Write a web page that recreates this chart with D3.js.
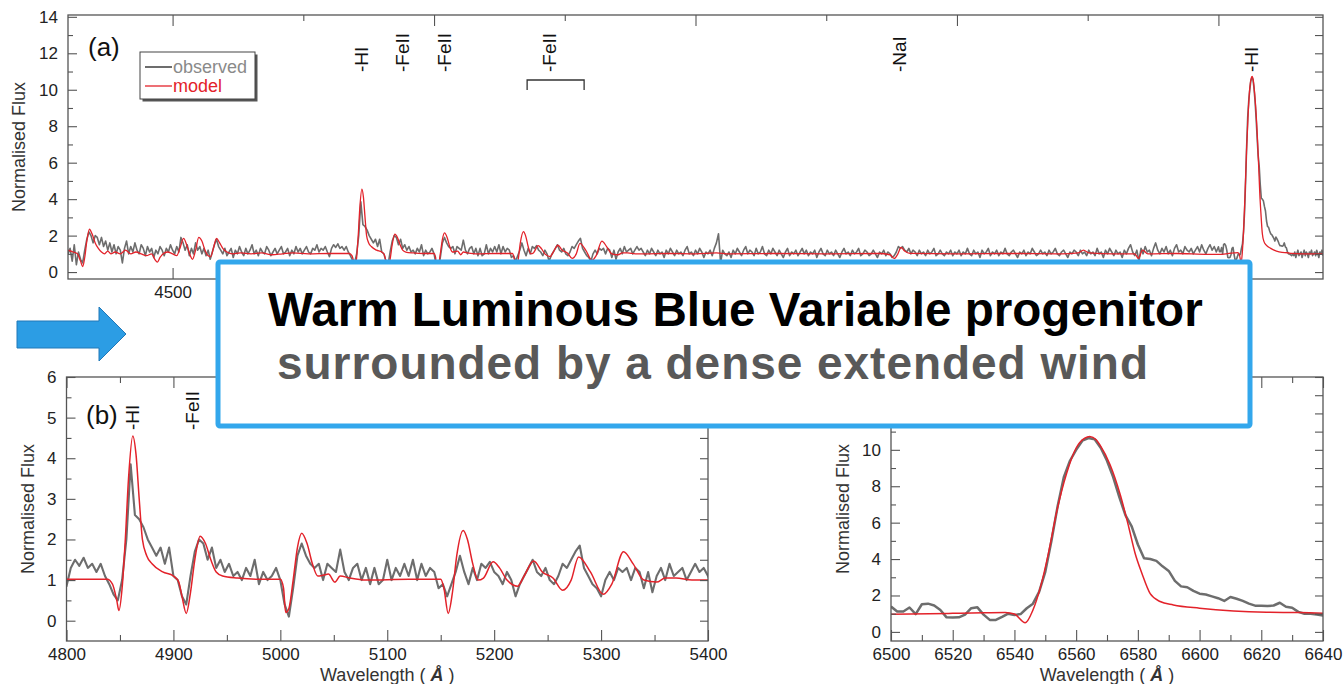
<!DOCTYPE html>
<html>
<head>
<meta charset="utf-8">
<title>Warm LBV progenitor spectrum</title>
<script src="https://cdn.jsdelivr.net/npm/d3@7/dist/d3.min.js"></script>
<style>
  body { margin: 0; background: #fff; }
  svg text { font-family: "Liberation Sans", Arial, Helvetica, sans-serif; }
  .tick text { font-size: 17px; fill: #222; }
  .tick line { stroke: #555; stroke-width: 1.1; }
</style>
</head>
<body>
<svg id="chart" width="1343" height="684"></svg>
<script>
// observed spectrum, regular grids (start wavelength, step in A)
var obs4300 = [
  1.0, 1.3, 0.6, 1.5, 0.4, 1.1, 0.7, 0.5, 1.2, 1.8,
  2.2, 2.0, 1.6, 2.0, 1.9, 1.5, 1.9, 1.4, 1.7, 1.2,
  1.6, 1.1, 1.5, 1.0, 1.4, 1.2, 0.5, 1.3, 1.7, 1.0,
  1.4, 1.1, 1.6, 1.2, 1.0, 1.5, 1.3, 0.9, 1.4, 1.1,
  1.3, 0.8, 1.2, 1.0, 1.4, 1.2, 0.9, 1.3, 1.1, 1.5,
  1.2, 1.0, 1.4, 1.1, 1.9, 1.6, 1.2, 1.5, 0.9, 1.3,
  1.0, 1.6, 1.2, 1.4, 1.0, 1.3, 0.9, 1.2, 0.7, 1.1,
  1.5, 1.8, 1.4, 1.2, 1.0, 1.3, 0.9, 1.1, 1.3, 0.8,
  1.2, 1.0, 1.4, 1.1, 0.9, 1.3, 1.0, 1.2, 1.5, 1.0,
  1.2, 0.9, 1.3, 1.1, 1.0, 1.4, 1.2, 0.9, 1.1, 1.3,
  1.0, 1.2, 1.4, 1.0, 1.1, 1.3, 0.9, 1.2, 1.0, 1.4,
  1.1, 1.3, 1.0, 1.2, 1.4, 1.1, 1.0, 1.3, 1.2, 1.5,
  1.1, 1.3, 1.2, 1.4, 1.1
];
var obs4800 = [
  0.85, 1.3, 1.5, 1.35, 1.55, 1.3, 1.4, 1.2, 1.4, 1.1,
  0.9, 0.65, 0.5, 1.0, 2.0, 3.85, 2.6, 2.5, 2.3, 2.0,
  1.8, 1.6, 1.8, 1.4, 1.8, 1.1, 1.0, 0.6, 0.4, 1.1,
  1.7, 2.0, 1.9, 1.5, 1.8, 1.3, 1.5, 1.2, 1.4, 1.1,
  1.2, 1.0, 1.3, 1.1, 1.5, 0.9, 1.2, 1.0, 1.1, 1.3,
  1.0, 0.4, 0.1, 0.8, 1.6, 1.9, 1.6, 1.4, 1.3, 1.4,
  1.0, 1.4, 1.3, 1.2, 1.75, 1.2, 1.0, 1.3, 1.4, 1.0,
  1.3, 0.9, 1.3, 0.9, 1.0, 1.5, 1.0, 1.3, 1.1, 1.4,
  1.1, 1.5, 1.0, 1.4, 1.1, 1.3, 1.2, 0.8, 0.9, 0.6,
  0.9, 1.2, 1.6, 1.2, 0.9, 1.3, 1.0, 1.4, 1.3, 1.45,
  1.2, 1.1, 0.9, 1.2, 1.0, 0.6, 0.9, 1.1, 1.3, 1.5,
  1.2, 1.1, 1.3, 1.0, 0.9, 1.1, 1.4, 1.3, 1.5, 1.7,
  1.85, 1.3, 1.1, 0.9, 0.8, 0.6, 1.0, 1.2, 1.0, 1.3,
  1.2, 1.3, 1.0, 1.3, 1.2, 0.8, 1.2, 0.7, 1.1, 1.3,
  1.0, 1.4, 1.1, 1.2, 1.3, 1.0, 1.2, 1.4, 1.2, 1.3
];
var obs5400 = [
  1.1, 0.9, 1.2, 1.0, 1.3, 1.1, 0.9, 1.2, 1.0, 1.1,
  0.8, 1.2, 1.0, 1.3, 1.1, 0.9, 1.2, 1.0, 1.1, 0.9,
  1.2, 1.4, 1.0, 1.1, 0.9, 1.2, 1.0, 1.3, 1.1, 0.8,
  1.1, 1.0, 1.2, 0.9, 1.3, 1.6, 2.1, 0.5, 1.2, 1.0,
  0.9, 1.1, 0.8, 1.2, 1.0, 1.3, 1.1, 0.9, 1.2, 1.4,
  1.0, 1.2, 1.1, 0.9, 1.3, 1.0, 1.1, 1.4, 1.0, 0.9,
  1.2, 1.0, 1.3, 1.1, 0.9, 1.2, 1.0, 0.8, 1.1, 1.3,
  0.9, 1.1, 1.0, 1.2, 0.9, 1.1, 1.3, 1.0, 1.2, 0.9,
  1.1, 1.0, 1.2, 0.8, 1.1, 1.3, 1.0, 0.9, 1.2, 1.0,
  1.1, 0.9, 1.2, 1.0, 0.8, 1.1, 1.3, 1.0, 1.1, 0.9,
  1.2, 1.0, 1.1, 1.3, 0.9, 1.0, 1.2, 1.1, 0.9, 1.0,
  1.2, 1.0, 0.8, 1.1, 1.0, 1.2, 0.9, 1.1, 1.0, 0.8,
  0.9, 1.1, 1.4, 1.3, 1.4, 1.2, 1.1, 1.3, 1.0, 1.2,
  1.1, 0.9, 1.2, 1.0, 1.1, 0.9, 1.2, 1.0, 1.1, 1.3,
  0.9, 1.0, 1.2, 1.0, 0.9, 1.1, 1.0, 1.2, 0.9, 1.1
];
var obs6000 = [
  1.0, 1.2, 0.9, 1.1, 1.0, 1.3, 1.0, 0.9, 1.2, 1.0,
  1.1, 0.8, 1.2, 1.0, 1.1, 1.3, 0.9, 1.1, 1.0, 1.2,
  0.9, 1.1, 1.0, 1.3, 1.0, 0.9, 1.1, 1.2, 1.0, 0.8,
  1.1, 1.0, 1.2, 0.9, 1.1, 1.0, 1.3, 1.1, 0.9, 1.0,
  1.2, 1.0, 1.1, 0.9, 1.2, 1.0, 1.1, 1.3, 1.0, 0.9,
  1.1, 1.2, 1.0, 0.8, 1.1, 1.0, 1.2, 1.1, 0.9, 1.2,
  1.0, 1.1, 0.9, 1.2, 1.0, 1.1, 0.9, 1.3, 1.0, 1.1,
  0.8, 1.2, 1.0, 1.3, 1.1, 0.9, 1.2, 1.0, 1.1, 0.8,
  1.2, 1.0, 1.3, 1.5, 1.1, 0.9, 1.2, 0.6, 1.3, 1.0,
  1.4, 1.1, 1.2, 0.9, 1.3, 1.6, 1.2, 1.0, 1.3, 1.1,
  1.4, 1.0, 1.2, 0.9, 1.3, 1.5, 1.1, 1.2, 1.0, 1.4,
  1.2, 1.1, 1.3, 1.0, 1.2, 1.4, 1.1, 1.5, 1.2, 1.0,
  1.3, 1.5, 1.2, 1.4, 1.1
];
var obs6500 = [
  1.39, 1.12, 1.12, 1.34, 0.98, 1.52, 1.55, 1.45, 1.2, 0.8,
  0.79, 0.8, 0.95, 1.3, 1.35, 0.95, 0.66, 0.66, 0.82, 1.0,
  0.93, 0.98, 1.3, 1.55, 2.2, 3.3, 5.0, 6.9, 8.5, 9.4,
  10.0, 10.5, 10.65, 10.58, 10.1, 9.4, 8.5, 7.4, 6.4, 5.8,
  4.8, 4.05, 4.0, 3.9, 3.6, 3.35, 2.8, 2.5, 2.45, 2.25,
  2.1, 2.05, 1.95, 1.85, 1.7, 1.92, 1.82, 1.7, 1.55, 1.44,
  1.44, 1.42, 1.45, 1.6, 1.38, 1.33, 1.1, 1.0, 0.99, 0.95,
  0.9, 1.0, 0.9, 1.1, 0.8, 1.0, 1.2, 0.9, 1.0, 1.1,
  0.8, 1.0, 1.2, 0.9, 1.1, 1.0, 0.8, 1.1, 1.0, 1.2,
  0.9, 1.0, 1.1, 0.9, 1.2, 1.0, 0.8, 1.1, 1.0, 1.2,
  0.9
];
var obsSegments = [[4300, 4, obs4300], [4800, 4, obs4800], [5400, 4, obs5400], [6000, 4, obs6000], [6500, 2, obs6500]];

// model spectrum [wavelength, flux]
var model = [
  [4300,1.2],[4310,1.1],[4318,1.0],[4324,0.6],[4328,0.3],[4332,0.8],[4336,1.7],[4341,2.35],[4346,2.1],[4352,1.6],
  [4358,1.3],[4364,1.1],[4370,1.0],[4376,1.15],[4382,1.0],[4390,1.1],[4400,1.0],[4410,1.2],[4420,1.0],[4430,1.1],
  [4440,1.0],[4450,0.9],[4460,1.0],[4466,0.7],[4471,0.55],[4476,0.8],[4482,1.0],[4490,1.1],[4500,1.0],[4508,0.9],
  [4514,1.3],[4521,1.85],[4528,1.4],[4534,0.9],[4538,0.7],[4544,1.2],[4550,1.9],[4556,1.7],[4562,1.2],[4568,0.9],
  [4573,0.85],[4578,1.3],[4584,1.85],[4590,1.6],[4596,1.3],[4604,1.1],[4615,1.0],[4630,1.05],[4650,1.0],[4670,1.05],
  [4690,0.95],[4710,1.0],[4730,1.05],[4760,1.0],[4800,1.02],[4820,1.02],[4838,1.02],[4843,0.9],[4847,0.5],[4849,0.25],
  [4852,0.8],[4855,2.0],[4858,3.5],[4862,4.55],[4865,4.1],[4868,3.0],[4871,2.0],[4875,1.6],[4880,1.4],[4890,1.2],
  [4900,1.1],[4905,0.95],[4908,0.6],[4912,0.18],[4916,0.7],[4920,1.5],[4925,2.08],[4930,1.9],[4935,1.5],[4940,1.2],
  [4946,1.1],[4960,1.05],[4980,1.02],[5000,1.02],[5003,0.8],[5005,0.2],[5008,0.3],[5012,1.0],[5016,1.8],[5020,2.15],
  [5025,1.9],[5030,1.4],[5035,1.1],[5040,1.12],[5045,1.15],[5051,0.95],[5056,1.1],[5065,1.05],[5080,1.0],[5120,1.02],
  [5150,1.02],[5153,0.8],[5157,0.18],[5161,0.7],[5165,1.6],[5171,2.22],[5175,2.0],[5180,1.4],[5185,1.0],[5190,1.05],
  [5199,1.45],[5205,1.3],[5212,1.0],[5222,0.85],[5228,1.1],[5237,1.47],[5245,1.2],[5255,1.05],[5264,0.75],[5272,1.0],
  [5279,1.57],[5290,1.2],[5302,0.65],[5310,0.9],[5321,1.7],[5330,1.4],[5340,1.0],[5352,0.95],[5360,1.05],[5370,1.05],
  [5385,1.0],[5400,1.0],[5450,1.02],[5500,1.0],[5540,1.05],[5560,1.0],[5650,1.02],[5750,1.0],[5850,1.02],[5872,0.95],
  [5880,0.75],[5887,1.0],[5893,1.35],[5900,1.15],[5910,1.02],[6000,1.0],[6100,1.02],[6200,1.0],[6232,1.05],[6242,1.2],
  [6252,1.05],[6300,1.0],[6340,1.0],[6347,0.75],[6355,1.2],[6365,1.0],[6420,1.02],[6480,0.97],[6500,0.97],[6520,1.02],
  [6530,1.05],[6537,1.07],[6540,0.98],[6543.5,0.5],[6546,1.2],[6548.5,2.5],[6551,4.3],[6553.7,6.6],[6556.9,8.7],[6560,10.1],
  [6562.8,10.64],[6564.4,10.73],[6566.5,10.55],[6567.7,10.27],[6571,9.18],[6574.3,7.53],[6577,5.79],[6579.1,4.32],[6581.3,3.22],[6584,2.1],
  [6587.2,1.67],[6591.5,1.48],[6600,1.3],[6611,1.15],[6621.7,1.08],[6632.5,1.06],[6640,1.02],[6660,1.0],[6700,1.0]
];

// ticks
var aTicksX = [4500, 5000, 5500, 6000, 6500];
var aMinorX = [4750, 5250, 5750, 6250];
var aTicksY = [0, 2, 4, 6, 8, 10, 12, 14];
var aMinorY = [1, 3, 5, 7, 9, 11, 13];
var bTicksX = [4800, 4900, 5000, 5100, 5200, 5300, 5400];
var bMinorX = [4850, 4950, 5050, 5150, 5250, 5350];
var bTicksY = [0, 1, 2, 3, 4, 5, 6];
var bMinorY = [0.5, 1.5, 2.5, 3.5, 4.5, 5.5];
var cTicksX = [6500, 6520, 6540, 6560, 6580, 6600, 6620, 6640];
var cMinorX = [6510, 6530, 6550, 6570, 6590, 6610, 6630];
var cTicksY = [0, 2, 4, 6, 8, 10, 12, 14];
var cMinorY = [1, 3, 5, 7, 9, 11, 13];

// line identifications
var aLines = [["-HI", 4861], ["-FeII", 4940], ["-FeII", 5020], ["-FeII", 5220], ["-NaI", 5890], ["-HI", 6563]];
var aBracket = [5178, 5287];
var bLines = [["-HI", 4862], ["-FeII", 4918]];

var observed = [];
obsSegments.forEach(function (s) {
  s[2].forEach(function (f, i) { observed.push([s[0] + i * s[1], f]); });
});

var svg = d3.select("#chart");

function panel(o) {
  var x = d3.scaleLinear().domain(o.xDomain).range([o.left, o.right]);
  var y = d3.scaleLinear().domain(o.yDomain).range([o.bottom, o.top]);
  var g = svg.append("g");

  g.append("clipPath").attr("id", "clip-" + o.name).append("rect")
    .attr("x", o.left).attr("y", o.top)
    .attr("width", o.right - o.left).attr("height", o.bottom - o.top);
  var plot = g.append("g").attr("clip-path", "url(#clip-" + o.name + ")");

  var pad = (o.xDomain[1] - o.xDomain[0]) * 0.02;
  var inRange = function (d) { return d[0] >= o.xDomain[0] - pad && d[0] <= o.xDomain[1] + pad; };

  plot.append("path").datum(observed.filter(inRange))
    .attr("fill", "none").attr("stroke", "#6d6d6d").attr("stroke-width", o.obsWidth)
    .attr("stroke-linejoin", "round")
    .attr("d", d3.line().x(function (d) { return x(d[0]); }).y(function (d) { return y(d[1]); }));

  plot.append("path").datum(model.filter(inRange))
    .attr("fill", "none").attr("stroke", "#e3222a").attr("stroke-width", o.modWidth)
    .attr("d", d3.line().curve(d3.curveMonotoneX)
      .x(function (d) { return x(d[0]); }).y(function (d) { return y(d[1]); }));

  function ax(gen, tr, vals, size, labels, padding) {
    var a = g.append("g").attr("transform", tr)
      .call(gen.tickValues(vals).tickSize(size).tickSizeOuter(0).tickPadding(padding || 3)
        .tickFormat(labels ? d3.format("d") : ""));
    a.select(".domain").remove();
    return a;
  }
  var bt = "translate(0," + o.bottom + ")", tp = "translate(0," + o.top + ")";
  var lf = "translate(" + o.left + ",0)", rt = "translate(" + o.right + ",0)";
  ax(d3.axisBottom(x), bt, o.ticksX, -11, true, 7);
  ax(d3.axisBottom(x), bt, o.minorX, -6, false);
  ax(d3.axisTop(x), tp, o.ticksX, -11, false);
  ax(d3.axisTop(x), tp, o.minorX, -6, false);
  ax(d3.axisLeft(y), lf, o.ticksY, -9, true, 10);
  ax(d3.axisLeft(y), lf, o.minorY, -5, false);
  ax(d3.axisRight(y), rt, o.ticksY.concat(o.minorY), -8, false);

  g.append("rect").attr("x", o.left).attr("y", o.top)
    .attr("width", o.right - o.left).attr("height", o.bottom - o.top)
    .attr("fill", "none").attr("stroke", "#555").attr("stroke-width", 1.3);

  g.append("text")
    .attr("transform", "translate(" + o.yTitleX + "," + (o.top + o.bottom) / 2 + ") rotate(-90)")
    .attr("text-anchor", "middle").attr("dy", "0.35em")
    .attr("font-size", 18).attr("fill", "#333").text("Normalised Flux");

  if (o.xTitle) {
    var t = g.append("text").attr("x", (o.left + o.right) / 2).attr("y", 681)
      .attr("text-anchor", "middle").attr("font-size", 18).attr("fill", "#333");
    t.append("tspan").text("Wavelength ( ");
    t.append("tspan").attr("font-weight", "bold").attr("font-style", "italic").text("\u00C5");
    t.append("tspan").text(" )");
  }
  return { x: x, y: y, g: g };
}

function lineLabels(p, list, base) {
  p.g.selectAll(null).data(list).enter().append("text")
    .attr("transform", function (d) { return "translate(" + p.x(d[1]) + "," + base + ") rotate(-90)"; })
    .attr("dy", "0.35em").attr("font-size", 19).attr("fill", "#111")
    .text(function (d) { return d[0]; });
}

// panel (a)
var pa = panel({ name: "a", left: 68, right: 1323, top: 15, bottom: 279,
  xDomain: [4300, 6700], yDomain: [-0.38, 14.1],
  ticksX: aTicksX, minorX: aMinorX, ticksY: aTicksY, minorY: aMinorY,
  obsWidth: 1.6, modWidth: 1.3, yTitleX: 19 });
lineLabels(pa, aLines, 72);
pa.g.append("path")
  .attr("d", "M" + pa.x(aBracket[0]) + ",90V80H" + pa.x(aBracket[1]) + "V90")
  .attr("fill", "none").attr("stroke", "#333").attr("stroke-width", 1.3);
pa.g.append("text").attr("x", 88).attr("y", 56).attr("font-size", 26).attr("fill", "#111").text("(a)");

// legend
var lg = pa.g.append("g").attr("transform", "translate(140,52)");
lg.append("rect").attr("x", 2.5).attr("y", 2.5).attr("width", 115).attr("height", 47).attr("fill", "#555");
lg.append("rect").attr("width", 115).attr("height", 47).attr("fill", "#fff").attr("stroke", "#444").attr("stroke-width", 1);
var legendItems = [["observed", "#6d6d6d", "#8a8a8a", 2], ["model", "#e3222a", "#e3222a", 1.3]];
legendItems.forEach(function (d, i) {
  var yy = 15 + i * 19;
  lg.append("line").attr("x1", 5).attr("x2", 32).attr("y1", yy).attr("y2", yy)
    .attr("stroke", d[1]).attr("stroke-width", d[3]);
  lg.append("text").attr("x", 33).attr("y", yy).attr("dy", "0.35em")
    .attr("font-size", 18).attr("fill", d[2]).text(d[0]);
});

// panel (b)
var pb = panel({ name: "b", left: 66.5, right: 708, top: 377, bottom: 641,
  xDomain: [4800, 5400], yDomain: [-0.5, 6],
  ticksX: bTicksX, minorX: bMinorX, ticksY: bTicksY, minorY: bMinorY,
  obsWidth: 2.1, modWidth: 1.5, yTitleX: 28, xTitle: true });
lineLabels(pb, bLines, 430);
pb.g.append("text").attr("x", 86).attr("y", 424).attr("font-size", 26).attr("fill", "#111").text("(b)");

// panel (c)
var pc = panel({ name: "c", left: 891, right: 1323, top: 377, bottom: 641,
  xDomain: [6500, 6640], yDomain: [-0.5, 14],
  ticksX: cTicksX, minorX: cMinorX, ticksY: cTicksY, minorY: cMinorY,
  obsWidth: 2.5, modWidth: 1.5, yTitleX: 843, xTitle: true });

// arrow
svg.append("path")
  .attr("d", "M17,321H99V307L126,334L99,361V348H17Z")
  .attr("fill", "#2c9de4").attr("stroke", "#2078b8").attr("stroke-width", 1);

// text box
svg.append("rect").attr("x", 218).attr("y", 262).attr("width", 1032).attr("height", 164)
  .attr("rx", 2).attr("fill", "#fff").attr("stroke", "#33a7ec").attr("stroke-width", 5);

// fit a bold line to a target width, using letter spacing once the size is fixed
function fitText(x, y, str, color, width, size) {
  var t = svg.append("text").attr("x", x).attr("y", y).attr("font-weight", "bold")
    .attr("font-size", size || 40).attr("fill", color).text(str);
  var w = t.node().getComputedTextLength();
  if (size) {
    t.attr("letter-spacing", ((width - w) / (str.length - 1)).toFixed(2) + "px");
  } else {
    t.attr("font-size", 40 * width / w);
  }
  return t;
}
fitText(268, 326, "Warm Luminous Blue Variable progenitor", "#000", 935);
fitText(277, 379, "surrounded by a dense extended wind", "#595959", 871, 46);
</script>
</body>
</html>
